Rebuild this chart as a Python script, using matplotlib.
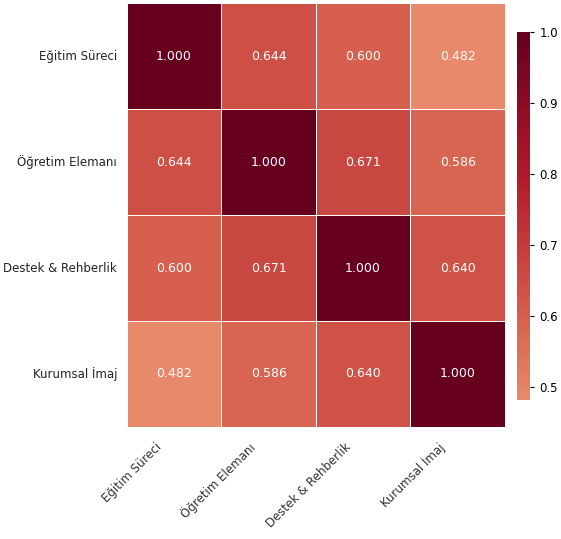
import numpy as np
import pandas as pd
import matplotlib
matplotlib.use("Agg")
import matplotlib.pyplot as plt
import matplotlib.transforms as mtransforms
import seaborn as sns

# -------------------------------------------------
# Correlation matrix values
# -------------------------------------------------
labels = ["Eğitim Süreci", "Öğretim Elemanı", "Destek & Rehberlik", "Kurumsal İmaj"]
row_egitim = [1.000, 0.644, 0.600, 0.482]
row_ogretim = [0.644, 1.000, 0.671, 0.586]
row_destek = [0.600, 0.671, 1.000, 0.640]
row_kurumsal = [0.482, 0.586, 0.640, 1.000]

corr = pd.DataFrame([row_egitim, row_ogretim, row_destek, row_kurumsal],
                    index=labels, columns=labels)

plt.rcParams["font.family"] = ["DejaVu Sans"]

fig = plt.figure(figsize=(5.61, 5.39), dpi=100)
ax = fig.add_axes([0.226, 0.208, 0.674, 0.786])
cax = fig.add_axes([0.922, 0.258, 0.023, 0.683])

sns.heatmap(corr, ax=ax, cbar_ax=cax, cmap="RdBu_r", center=0,
            annot=True, fmt=".3f", linewidths=0.6, linecolor="white",
            annot_kws={"fontsize": 9, "color": "white"})

ax.set_xticklabels(labels, rotation=45, ha="right", fontsize=8.5, color="#333333")
ax.set_yticklabels(labels, rotation=0, fontsize=8.5, color="#222222")
ax.tick_params(axis="y", length=0, pad=7)
ax.tick_params(axis="x", length=0, pad=6)

# nudge rotated labels a bit left/down like the original
offset = mtransforms.ScaledTranslation(-0.10, -0.05, fig.dpi_scale_trans)
for lbl in ax.get_xticklabels():
    lbl.set_transform(lbl.get_transform() + offset)

cax.tick_params(labelsize=8.5, length=3)
cax.set_yticks([0.5, 0.6, 0.7, 0.8, 0.9, 1.0])

fig.savefig("out.png", dpi=100)
